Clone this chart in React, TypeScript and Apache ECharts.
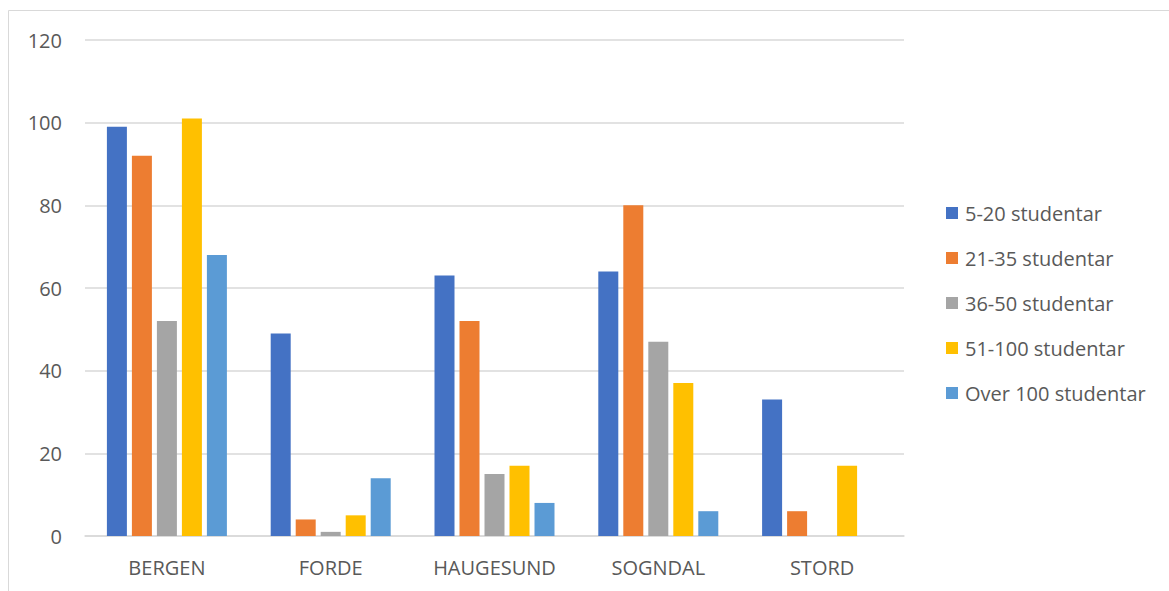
import React, { useEffect, useRef } from "react";
import * as echarts from "echarts";

const categories = ["BERGEN", "FORDE", "HAUGESUND", "SOGNDAL", "STORD"];
const seriesNames = ["5-20 studentar", "21-35 studentar", "36-50 studentar", "51-100 studentar", "Over 100 studentar"];
const colors = ["#4472C4", "#ED7D31", "#A5A5A5", "#FFC000", "#5B9BD5"];
const s520 = [99, 49, 63, 64, 33];
const s2135 = [92, 4, 52, 80, 6];
const s3650 = [52, 1, 15, 47, null];
const s51100 = [101, 5, 17, 37, 17];
const sOver100 = [68, 14, 8, 6, null];
const seriesData = [s520, s2135, s3650, s51100, sOver100];
const yTicks = { min: 0, max: 120, interval: 20 };

const FONT = "'Open Sans', 'Noto Sans', sans-serif";

export default function App() {
  const ref = useRef<HTMLDivElement>(null);
  useEffect(() => {
    if (!ref.current) return;
    const chart = echarts.init(ref.current, null, { renderer: "svg" });
    chart.setOption({
      animation: false,
      backgroundColor: "#ffffff",
      textStyle: { fontFamily: FONT },
      grid: { left: 85, right: 265, top: 40, bottom: 55, containLabel: false },
      legend: {
        orient: "vertical",
        left: 946,
        top: 203,
        padding: 0,
        itemWidth: 12,
        itemHeight: 12,
        itemGap: 25,
        icon: "rect",
        textStyle: { fontSize: 20, lineHeight: 20, color: "#595959", fontFamily: FONT, padding: [0, 0, 0, 2] },
        data: seriesNames,
      },
      xAxis: {
        type: "category",
        data: categories,
        axisLine: { lineStyle: { color: "#d9d9d9", width: 1.5 } },
        axisTick: { show: false },
        axisLabel: { fontSize: 20, color: "#595959", margin: 21, fontFamily: FONT },
      },
      yAxis: {
        type: "value",
        min: yTicks.min,
        max: yTicks.max,
        interval: yTicks.interval,
        axisLine: { show: false },
        axisTick: { show: false },
        splitLine: { lineStyle: { color: "#d9d9d9", width: 1.5 } },
        axisLabel: { fontSize: 20, color: "#595959", margin: 23, fontFamily: FONT },
      },
      graphic: [
        {
          type: "rect",
          shape: { x: 8.5, y: 10.5, width: 2000, height: 2000 },
          style: { fill: "none", stroke: "#d9d9d9", lineWidth: 1 },
          silent: true,
        },
      ],
      series: seriesNames.map((name, i) => ({
        name,
        type: "bar",
        data: seriesData[i],
        barWidth: 20,
        barGap: "25%",
        itemStyle: { color: colors[i] },
      })),
    });
    return () => chart.dispose();
  }, []);
  return (
    <div
      ref={ref}
      style={{ position: "fixed", left: 0, top: 0, width: 1169, height: 591 }}
    />
  );
}
